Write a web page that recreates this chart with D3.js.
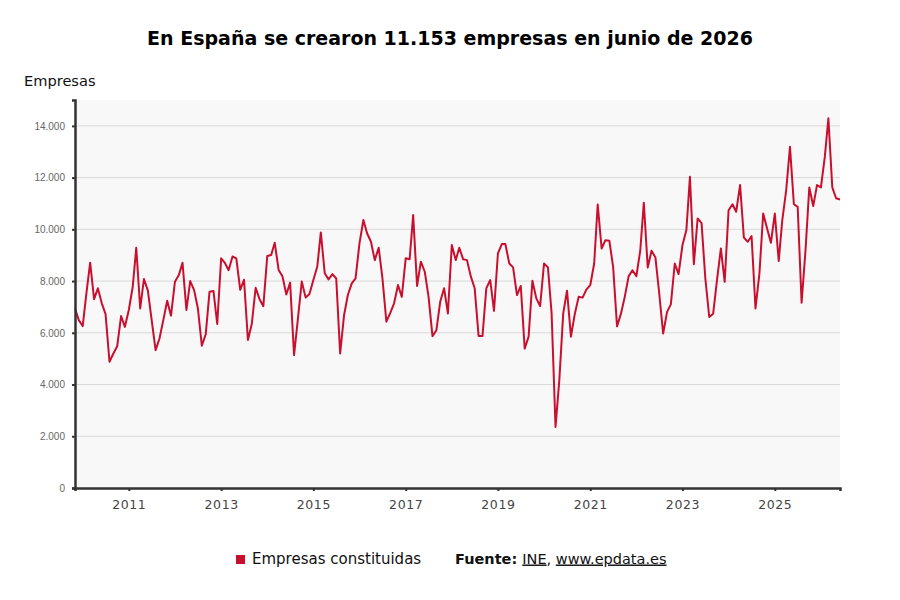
<!DOCTYPE html>
<html>
<head>
<meta charset="utf-8">
<script src="https://cdn.jsdelivr.net/npm/d3@7"></script>
<style>
  body { margin: 0; background: #fff; }
  svg { display: block; }
</style>
</head>
<body>
<div id="chart"></div>
<script>
// Monthly data starts in November 2009
var firstMonth = "2009-11";

// Empresas constituidas, one row per year
var empresas = [
  6940, 6490,
  6260, 7600, 8710, 7300, 7720, 7140, 6720, 4880, 5200, 5480, 6650, 6230,
  6880, 7780, 9290, 6940, 8080, 7630, 6490, 5330, 5780, 6490, 7240, 6660,
  7970, 8230, 8710, 6880, 8000, 7650, 6940, 5500, 5950, 7590, 7620, 6340,
  8880, 8690, 8420, 8950, 8880, 7660, 8050, 5720, 6360, 7740, 7300, 7030,
  8970, 9010, 9480, 8430, 8190, 7480, 7940, 5140, 6560, 7980, 7360, 7500,
  8040, 8560, 9880, 8300, 8065, 8270, 8100, 5200, 6680, 7460, 7910, 8100,
  9460, 10360, 9850, 9520, 8810, 9290, 8100, 6430, 6770, 7140, 7850, 7390,
  8880, 8840, 10550, 7810, 8750, 8360, 7390, 5870, 6100, 7200, 7720, 6750,
  9390, 8810, 9290, 8840, 8810, 8170, 7720, 5880, 5880, 7720, 8040, 6850,
  9070, 9430, 9430, 8680, 8530, 7460, 7810, 5390, 5850, 8010, 7330, 7030,
  8680, 8530, 6750, 2360, 4170, 6750, 7630, 5850, 6740, 7390, 7360, 7670,
  7840, 8680, 10960, 9260, 9580, 9560, 8550, 6250, 6740, 7390, 8190, 8420,
  8190, 9190, 11030, 8520, 9170, 8910, 7520, 5970, 6810, 7100, 8680, 8270,
  9390, 9970, 12030, 8650, 10420, 10240, 8100, 6610, 6740, 8030, 9260, 7970,
  10740, 10970, 10680, 11710, 9680, 9520, 9740, 6940, 8290, 10610, 10030, 9480,
  10610, 8780, 10350, 11510, 13190, 10970, 10870, 7160, 9190, 11620, 10900, 11710,
  11620, 12810, 14290, 11620, 11200, 11153
];

var yTicks = [0, 2000, 4000, 6000, 8000, 10000, 12000, 14000];
var xTickYears = [2011, 2013, 2015, 2017, 2019, 2021, 2023, 2025];

var titulo = "En España se crearon 11.153 empresas en junio de 2026";
var serieNombre = "Empresas constituidas";

// SVG size and plot margins
var svgWidth = 900;
var svgHeight = 600;
var margin = { top: 100, right: 60, bottom: 112, left: 75 };
var chartWidth = svgWidth - margin.left - margin.right;
var chartHeight = svgHeight - margin.top - margin.bottom;

var lineColor = "#c8102e";

var esFormat = d3.formatLocale({ decimal: ",", thousands: ".", grouping: [3], currency: ["", " €"] }).format(",d");

// build the month list from the first month
var parseMonth = d3.timeParse("%Y-%m");
var start = parseMonth(firstMonth);
var data = empresas.map(function (v, i) {
  return { date: d3.timeMonth.offset(start, i), value: v };
});

var svg = d3.select("#chart")
  .append("svg")
  .attr("width", svgWidth)
  .attr("height", svgHeight);

// title
svg.append("text")
  .attr("x", 450)
  .attr("y", 45)
  .attr("text-anchor", "middle")
  .style("font-family", "'DejaVu Sans', sans-serif")
  .style("font-weight", "bold")
  .style("font-size", "19px")
  .attr("fill", "#000")
  .text(titulo);

// y axis title
svg.append("text")
  .attr("x", 24)
  .attr("y", 86)
  .style("font-family", "'DejaVu Sans', sans-serif")
  .style("font-size", "14.6px")
  .attr("fill", "#111")
  .text("Empresas");

var chartGroup = svg.append("g")
  .attr("transform", "translate(" + margin.left + "," + margin.top + ")");

var xScale = d3.scaleTime()
  .domain(d3.extent(data, function (d) { return d.date; }))
  .range([0, chartWidth]);

var yScale = d3.scaleLinear()
  .domain([0, 15000])
  .range([chartHeight, 0]);

// plot background
chartGroup.append("rect")
  .attr("width", chartWidth)
  .attr("height", chartHeight)
  .attr("fill", "#f8f8f8");

// gridlines
chartGroup.selectAll(".grid")
  .data(yTicks.filter(function (t) { return t > 0; }))
  .enter()
  .append("line")
  .attr("class", "grid")
  .attr("x1", 0)
  .attr("x2", chartWidth)
  .attr("y1", function (d) { return yScale(d); })
  .attr("y2", function (d) { return yScale(d); })
  .attr("stroke", "#d9d9d9")
  .attr("stroke-width", 1);

// the line
var line = d3.line()
  .x(function (d) { return xScale(d.date); })
  .y(function (d) { return yScale(d.value); });

chartGroup.append("path")
  .datum(data)
  .attr("fill", "none")
  .attr("stroke", lineColor)
  .attr("stroke-width", 2)
  .attr("stroke-linejoin", "round")
  .attr("d", line);

// axes
var leftAxis = d3.axisLeft(yScale)
  .tickValues(yTicks)
  .tickSize(3)
  .tickPadding(7)
  .tickFormat(esFormat);

var bottomAxis = d3.axisBottom(xScale)
  .tickValues(xTickYears.map(function (y) { return new Date(y, 0, 1); }))
  .tickSize(3)
  .tickPadding(9)
  .tickFormat(d3.timeFormat("%Y"));

var gy = chartGroup.append("g").call(leftAxis);
gy.select(".domain").attr("stroke", "#333").attr("stroke-width", 2.5);
gy.selectAll(".tick line").attr("stroke", "#333").attr("stroke-width", 2);
gy.selectAll(".tick text")
  .style("font-family", "'Liberation Sans', Arial, sans-serif")
  .style("font-size", "10px")
  .attr("fill", "#666");

var gx = chartGroup.append("g")
  .attr("transform", "translate(0," + chartHeight + ")")
  .call(bottomAxis);
gx.select(".domain").attr("stroke", "#333").attr("stroke-width", 2.5);
gx.selectAll(".tick line").attr("stroke", "#333").attr("stroke-width", 2);
gx.selectAll(".tick text")
  .style("font-family", "'DejaVu Sans', sans-serif")
  .style("font-size", "12.5px")
  .style("letter-spacing", "0.6px")
  .attr("fill", "#444");

// legend
var legend = svg.append("g").attr("transform", "translate(236,555)");
legend.append("rect")
  .attr("width", 9)
  .attr("height", 9)
  .attr("fill", lineColor);
legend.append("text")
  .attr("x", 16)
  .attr("y", 8.5)
  .style("font-family", "'DejaVu Sans', sans-serif")
  .style("font-size", "15px")
  .attr("fill", "#111")
  .text(serieNombre);

// source
var fuente = svg.append("text")
  .attr("x", 455)
  .attr("y", 563.5)
  .style("font-family", "'DejaVu Sans', sans-serif")
  .style("font-size", "14.5px")
  .attr("fill", "#111");
fuente.append("tspan").style("font-weight", "bold").text("Fuente: ");
fuente.append("tspan").style("text-decoration", "underline").text("INE");
fuente.append("tspan").text(", ");
fuente.append("tspan").style("text-decoration", "underline").text("www.epdata.es");
</script>
</body>
</html>
